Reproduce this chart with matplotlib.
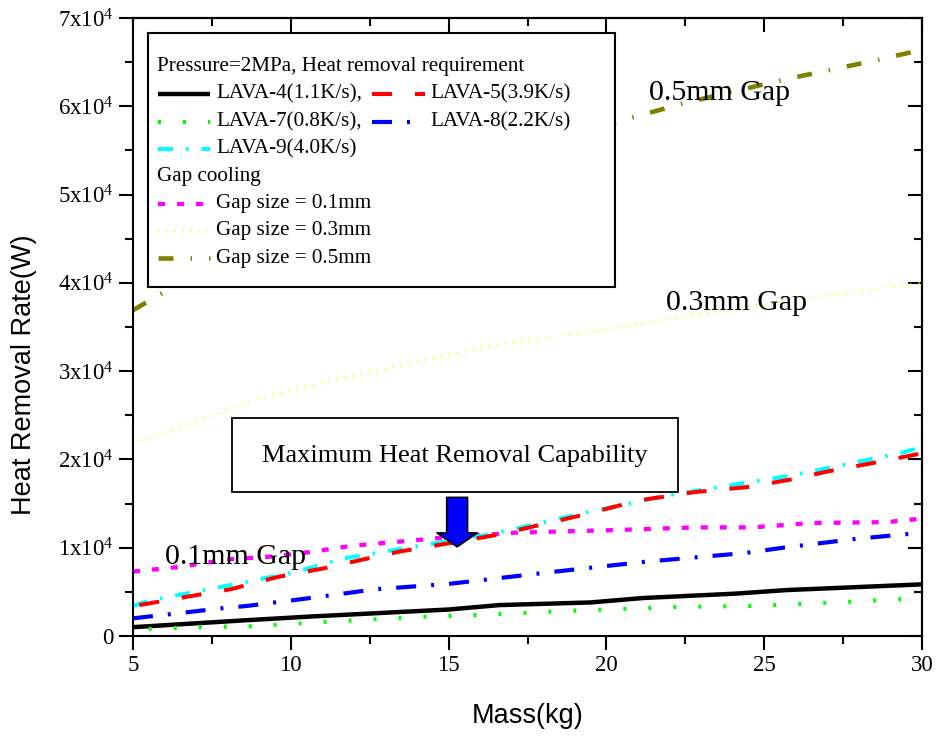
import matplotlib
matplotlib.use("Agg")
import matplotlib.pyplot as plt
from matplotlib.lines import Line2D
from matplotlib.patches import Rectangle
from matplotlib.ticker import MultipleLocator, FuncFormatter

plt.rcParams["font.family"] = ["Liberation Serif", "DejaVu Serif"]
plt.rcParams["mathtext.fontset"] = "custom"
plt.rcParams["mathtext.rm"] = "Liberation Serif"
plt.rcParams["mathtext.it"] = "Liberation Serif:italic"
plt.rcParams["lines.scale_dashes"] = False

# ---- heat removal requirement (W) vs mass (kg) ----
lava4_mass = [5, 8.65, 10.6, 15.0, 16.6, 19.5, 21.15, 24.1, 25.7, 30]
lava4_q = [1000, 1800, 2200, 3000, 3500, 3800, 4300, 4800, 5200, 5850]

lava5_mass = [5.2, 6.8, 8.1, 9.6, 11.1, 12.2, 13.5, 15.0, 16.6, 19.0, 21.1, 22.8, 24.55, 25.8, 27.1, 28.45, 30]
lava5_q = [3500, 4500, 5300, 6700, 7700, 8600, 9600, 10500, 11500, 13500, 15400, 16300, 16900, 17700, 18700, 19600, 20700]

lava7_mass = [5.5, 7.1, 8.7, 11.1, 14.3, 16.0, 19.2, 22.4, 24.6, 27.9, 30]
lava7_q = [800, 1000, 1100, 1600, 2200, 2400, 2900, 3300, 3400, 3900, 4300]

lava8_mass = [5, 6.5, 7.7, 8.6, 10.4, 12.7, 15.0, 18.4, 21.2, 24.4, 25.6, 27.9, 29.7]
lava8_q = [2000, 2600, 3100, 3400, 4200, 5300, 5900, 7300, 8400, 9400, 10000, 11000, 11600]

lava9_mass = [5, 5.5, 7.7, 10.1, 11.7, 13.7, 16.3, 17.9, 19.5, 21.9, 23.6, 25.9, 27.8, 29.4, 30]
lava9_q = [3400, 4000, 5500, 7200, 8800, 10000, 11500, 12800, 14100, 15900, 16900, 18200, 19600, 20800, 21400]

# ---- gap cooling capability (W) vs mass (kg) ----
gap01_mass = [5, 6.4, 8.1, 9.4, 10.6, 11.9, 14.7, 17.1, 20.3, 22.8, 24.6, 26.5, 28.9, 30]
gap01_q = [7300, 7800, 8700, 9000, 9500, 10200, 11100, 11700, 12000, 12300, 12300, 12800, 12900, 13300]

gap03_mass = [5, 6.54, 8.81, 11.41, 14.0, 16.77, 19.53, 22.45, 26.0, 30]
gap03_q = [21800, 23700, 26700, 29000, 31100, 33100, 34500, 36200, 38100, 40000]

gap05_mass = [5, 6, 7.5, 10, 12.5, 15, 17.5, 20.3, 22.4, 25.6, 28.4, 30]
gap05_q = [36900, 39000, 41800, 46000, 49600, 52700, 55500, 58200, 60300, 63000, 65100, 66400]

y_ticks = [0, 10000, 20000, 30000, 40000, 50000, 60000, 70000]
x_ticks = [5, 10, 15, 20, 25, 30]

PT = 0.72  # points per pixel at 100 dpi

styles = {
    "lava4": dict(color="black", lw=3.2, linestyle="-"),
    "lava5": dict(color="#ff0000", lw=2.9, linestyle=(0, (20 * PT, 23 * PT))),
    "lava7": dict(color="#00ff00", lw=2.9, linestyle=(0, (3 * PT, 22 * PT))),
    "lava8": dict(color="#0000ff", lw=3.0, linestyle=(0, (20 * PT, 15 * PT, 3 * PT, 15 * PT))),
    "lava9": dict(color="#00ffff", lw=2.9, linestyle=(0, (15 * PT, 13 * PT, 2.5 * PT, 13 * PT))),
    "gap01": dict(color="#ff00ff", lw=3.1, linestyle=(0, (7 * PT, 12 * PT))),
    "gap03": dict(color="#ffff00", lw=1.6, linestyle=(0, (1.2 * PT, 7 * PT))),
    "gap05": dict(color="#808000", lw=3.3, linestyle=(0, (15 * PT, 17 * PT, 1.5 * PT, 17 * PT))),
}

fig = plt.figure(figsize=(9.41, 7.40), dpi=100)
ax = fig.add_axes([133 / 941, 1 - 636 / 740, (922 - 133) / 941, (636 - 18) / 740])

for key, m, q in [("gap05", gap05_mass, gap05_q), ("gap03", gap03_mass, gap03_q),
                  ("gap01", gap01_mass, gap01_q), ("lava9", lava9_mass, lava9_q),
                  ("lava5", lava5_mass, lava5_q), ("lava8", lava8_mass, lava8_q),
                  ("lava4", lava4_mass, lava4_q), ("lava7", lava7_mass, lava7_q)]:
    ax.plot(m, q, solid_capstyle="butt", dash_capstyle="butt", **styles[key])

ax.set_xlim(5, 30)
ax.set_ylim(0, 70000)
ax.set_xticks(x_ticks)
ax.set_yticks(y_ticks)
ax.xaxis.set_minor_locator(MultipleLocator(2.5))
ax.yaxis.set_minor_locator(MultipleLocator(5000))


def sci_label(v, pos):
    n = int(round(v / 10000))
    return "0" if n == 0 else f"{n}x10$^{{4}}$"


ax.yaxis.set_major_formatter(FuncFormatter(sci_label))
ax.tick_params(which="both", direction="out", width=1.5, top=False, right=False, labelsize=16.5)
ax.tick_params(which="major", length=10)
ax.tick_params(which="minor", length=5.5)
ax.tick_params(axis="x", pad=4)
ax.tick_params(axis="y", pad=4)
for sp in ax.spines.values():
    sp.set_linewidth(1.5)

# mirrored ticks pointing inward on the top and right edges
top = ax.secondary_xaxis("top")
top.set_xticks(x_ticks)
top.xaxis.set_minor_locator(MultipleLocator(2.5))
top.tick_params(which="both", direction="in", width=1.5, labeltop=False)
top.tick_params(which="major", length=10)
top.tick_params(which="minor", length=5.5)
top.spines["top"].set_linewidth(1.5)
right = ax.secondary_yaxis("right")
right.set_yticks(y_ticks)
right.yaxis.set_minor_locator(MultipleLocator(5000))
right.tick_params(which="both", direction="in", width=1.5, labelright=False)
right.tick_params(which="major", length=10)
right.tick_params(which="minor", length=5.5)
right.spines["right"].set_linewidth(1.5)

ax.set_xlabel("Mass(kg)", family="Liberation Sans", fontsize=19.5)
ax.set_ylabel("Heat Removal Rate(W)", family="Liberation Sans", fontsize=19.5)
ax.xaxis.set_label_coords(0.5, -0.108)
ax.yaxis.set_label_coords(-0.122, 0.422)

# curve labels
ax.text(6.0, 9000, "0.1mm Gap", fontsize=21.5, va="center", ha="left", zorder=6)
ax.text(21.9, 37700, "0.3mm Gap", fontsize=21.5, va="center", ha="left", zorder=6)
ax.text(21.35, 61500, "0.5mm Gap", fontsize=21.5, va="center", ha="left", zorder=6)

# capability call-out box and arrow
ax.add_patch(Rectangle((8.14, 16300), 22.27 - 8.14, 24700 - 16300, facecolor="white",
                       edgecolor="black", lw=1.3, zorder=7))
ax.text((8.14 + 22.27) / 2, 20400, "Maximum Heat Removal Capability", fontsize=19,
        ha="center", va="center", zorder=8)
ax.annotate("", xy=(15.27, 10100), xytext=(15.27, 15700),
            arrowprops=dict(arrowstyle="simple,head_width=1.45,head_length=0.5,tail_width=0.75",
                            fc="#0000ff", ec="black", lw=1.2, mutation_scale=20,
                            shrinkA=0, shrinkB=0), zorder=8)

# legend panel, positioned in axes fractions from pixel measurements
def fx(px):
    return (px - 133) / 789


def fy(py):
    return (636 - py) / 618


tr = ax.transAxes
ax.add_patch(Rectangle((fx(148), fy(287)), fx(615) - fx(148), fy(33) - fy(287),
                       transform=tr, facecolor="white", edgecolor="black", lw=1.5, zorder=9))
row = [67 + 27.3 * i for i in range(8)]
fs = 15.2


def sample(x0, x1, yrow, key):
    ax.add_line(Line2D([fx(x0), fx(x1)], [fy(yrow), fy(yrow)], transform=tr, zorder=10,
                       solid_capstyle="butt", dash_capstyle="butt", **styles[key]))


def label(x0, yrow, s):
    ax.text(fx(x0), fy(yrow), s, transform=tr, fontsize=fs, ha="left", va="center", zorder=10)


label(157, row[0], "Pressure=2MPa, Heat removal requirement")
sample(158, 210, row[1], "lava4"); label(216, row[1], "LAVA-4(1.1K/s),")
sample(372, 425, row[1], "lava5"); label(430, row[1], "LAVA-5(3.9K/s)")
sample(158, 210, row[2], "lava7"); label(216, row[2], "LAVA-7(0.8K/s),")
sample(372, 425, row[2], "lava8"); label(430, row[2], "LAVA-8(2.2K/s)")
sample(158, 210, row[3], "lava9"); label(216, row[3], "LAVA-9(4.0K/s)")
label(157, row[4], "Gap cooling")
sample(158, 210, row[5], "gap01"); label(216, row[5], "Gap size = 0.1mm")
sample(158, 210, row[6], "gap03"); label(216, row[6], "Gap size = 0.3mm")
sample(158, 210, row[7], "gap05"); label(216, row[7], "Gap size = 0.5mm")

fig.savefig("out.png", dpi=100)
